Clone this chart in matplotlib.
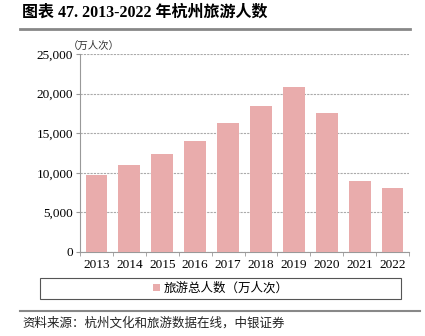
import matplotlib
matplotlib.use("Agg")
import matplotlib.pyplot as plt
from matplotlib.lines import Line2D
from matplotlib.patches import Patch, Rectangle

years = ["2013", "2014", "2015", "2016", "2017", "2018", "2019", "2020", "2021", "2022"]
visitors = [9700, 10940, 12370, 14010, 16290, 18400, 20810, 17560, 8950, 8030]
yticks = [0, 5000, 10000, 15000, 20000, 25000]
title = "图表 47. 2013-2022 年杭州旅游人数"
unit = "（万人次）"
legend_label = "旅游总人数（万人次）"
source = "资料来源：杭州文化和旅游数据在线，中银证券"

cjk = ["Noto Sans CJK SC", "DejaVu Sans"]
serif = ["Liberation Serif", "Noto Sans CJK SC"]
W, H = 425, 336
fig = plt.figure(figsize=(W / 100, H / 100), dpi=100)

ax = fig.add_axes([80 / W, 1 - 252 / H, (409 - 80) / W, (252 - 54) / H])
x = range(len(years))
ax.bar(x, visitors, width=0.66, color="#E9ACAC", zorder=3)
ax.set_xlim(-0.5, len(years) - 0.5)
ax.set_ylim(0, 25000)
ax.set_yticks(yticks)
ax.set_yticklabels([f"{v:,}" for v in yticks], family=serif, fontsize=9.5)
ax.set_xticks(list(x))
ax.set_xticklabels(years, family=serif, fontsize=9.5)
ax.set_xticks([i - 0.5 for i in range(len(years) + 1)], minor=True)
ax.tick_params(axis="x", which="major", length=0, pad=5)
ax.tick_params(axis="x", which="minor", length=3, color="#999999", direction="out")
ax.tick_params(axis="y", length=3, color="#999999", pad=2)
ax.grid(axis="y", color="#aaaaaa", linestyle=(0, (2, 1)), linewidth=0.8, zorder=0)
for s in ["top", "right"]:
    ax.spines[s].set_visible(False)
for s in ["left", "bottom"]:
    ax.spines[s].set_color("#999999")
    ax.spines[s].set_linewidth(0.8)

fig.text(68 / W, 1 - 46 / H, unit, family=cjk, fontsize=7.5, va="center", ha="left", color="#333333")

fig.text(22 / W, 1 - 13 / H, title, family=serif, fontsize=11.5, fontweight="bold", va="center", ha="left")
fig.add_artist(Line2D([20 / W, 410 / W], [1 - 29 / H, 1 - 29 / H], color="#888888", linewidth=2))

# legend box
fig.add_artist(Rectangle((40 / W, 1 - 299 / H), (401 - 40) / W, 21 / H,
                         transform=fig.transFigure, fill=False,
                         edgecolor="#555555", linewidth=0.8))
leg = fig.legend(handles=[Patch(facecolor="#E9ACAC", label=legend_label)],
                 loc="center", bbox_to_anchor=((40 + 401) / 2 / W, 1 - 288.5 / H),
                 frameon=False, prop={"family": cjk, "size": 9},
                 handlelength=0.55, handleheight=0.55, handletextpad=0.3,
                 borderpad=0.2)

fig.add_artist(Line2D([20 / W, 420 / W], [1 - 311 / H, 1 - 311 / H], color="#888888", linewidth=1.5))
fig.text(22 / W, 1 - 323 / H, source, family=cjk, fontsize=9, va="center", ha="left", color="#222222")

fig.savefig("out.png", dpi=100)
